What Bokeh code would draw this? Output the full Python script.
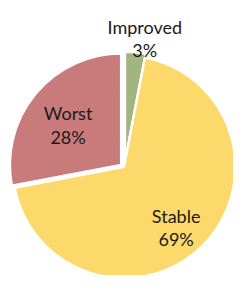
import math
from bokeh.plotting import figure
from bokeh.models import Range1d, ColumnDataSource
from bokeh.core.properties import value
from bokeh.embed import file_html
from bokeh.resources import INLINE

# ---- data ----
categories = ["Improved", "Stable", "Worst"]
percents = [3, 69, 28]
pct_labels = ["3%", "69%", "28%"]

# ---- style ----
colors = ["#a2b47f", "#fdd96b", "#c97b7c"]
explode_dx = [2, 1, -2]
explode_dy = [2, -2, 0]
label_r = [140, 80, 75]
label_nudge_deg = [-3.3, -0.9, -1.2]

W, H = 233, 275
p = figure(width=W, height=H, output_backend="svg", toolbar_location=None,
           x_range=Range1d(0, 249), y_range=Range1d(0, 291),
           min_border=0, outline_line_color=None, background_fill_color="white")
p.axis.visible = False
p.grid.visible = False

CX, CY, R = 131, 117, 119

starts, ends, xs, ys, lx, ly = [], [], [], [], [], []
total = sum(percents)
cum = 0.0
for i, v in enumerate(percents):
    a0 = 90 - cum / total * 360
    a1 = 90 - (cum + v) / total * 360
    mid = (a0 + a1) / 2 + label_nudge_deg[i]
    starts.append(math.radians(a0))
    ends.append(math.radians(a1))
    x = CX + explode_dx[i]
    y = CY + explode_dy[i]
    xs.append(x)
    ys.append(y)
    lx.append(x + label_r[i] * math.cos(math.radians(mid)))
    ly.append(y + label_r[i] * math.sin(math.radians(mid)))
    cum += v

src = ColumnDataSource(dict(x=xs, y=ys, s=starts, e=ends, c=colors))
p.wedge(x="x", y="y", radius=R, start_angle="s", end_angle="e", direction="clock",
        fill_color="c", line_color="white", line_width=2.5, source=src)

lab = ColumnDataSource(dict(
    x=lx, y1=[v + 5.75 for v in ly], y2=[v - 19.25 for v in ly],
    name=categories, pct=pct_labels))
for col, ycol in (("name", "y1"), ("pct", "y2")):
    p.text(x="x", y=ycol, text=col, source=lab, text_align="center",
           text_baseline="alphabetic", text_font=value("Lato"),
           text_font_size="18px", text_color="#1a1a1a")

open("out.html", "w").write(file_html(p, INLINE))
